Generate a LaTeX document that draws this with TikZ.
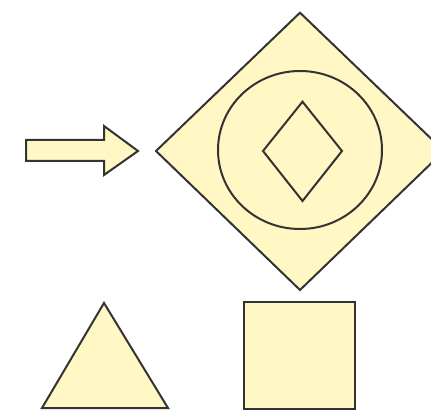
\documentclass[tikz,border=0pt]{standalone}
\begin{document}
\begin{tikzpicture}[x=1pt,y=-1pt,
  shp/.style={fill=shapefill,draw=shapeline,line width=2pt,line join=miter}]
\definecolor{shapefill}{HTML}{FFF7C4}
\definecolor{shapeline}{HTML}{333333}
\useasboundingbox (0,0) rectangle (431,411);
\clip (0,0) rectangle (431,411);
% arrow
\draw[shp] (26,140) -- (104,140) -- (104,126) -- (138,151) -- (104,175) -- (104,161) -- (26,161) -- cycle;
% big diamond
\draw[shp] (300,12.7) -- (444,151) -- (300,290) -- (156,151) -- cycle;
% circle
\draw[shp] (300,150) ellipse [x radius=82, y radius=79];
% inner diamond
\draw[shp] (302.5,101.7) -- (342,151) -- (302.5,201) -- (263,151) -- cycle;
% triangle
\draw[shp] (104,303) -- (168,408) -- (42,408) -- cycle;
% square
\draw[shp] (244,302) rectangle (355,408.5);
\end{tikzpicture}
\end{document}
